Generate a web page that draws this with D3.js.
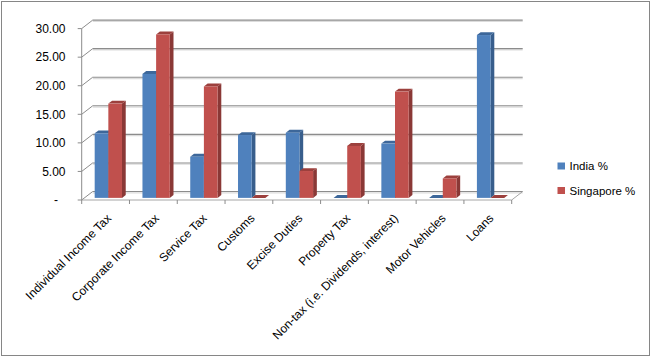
<!DOCTYPE html>
<html>
<head>
<meta charset="utf-8">
<script src="https://cdn.jsdelivr.net/npm/d3@7"></script>
<style>
    body { margin: 0; background: #fff; }
    text { font-family: "Liberation Sans", Arial, sans-serif; font-size: 11.5px; fill: #000; }
    text.xlabel, text.ylabel { font-size: 12px; }
</style>
</head>
<body>
<script>
// Revenue sources, India vs Singapore (3D column look)

// Data
var categories = ["Individual Income Tax", "Corporate Income Tax", "Service Tax",
    "Customs", "Excise Duties", "Property Tax",
    "Non-tax (i.e. Dividends, interest)", "Motor Vehicles", "Loans"];
var seriesNames = ["India %", "Singapore %"];
var india = [11.3, 21.7, 7.2, 11.0, 11.4, 0, 9.5, 0, 28.5];
var singapore = [16.5, 28.6, 19.5, 0, 4.7, 9.1, 18.6, 3.4, 0];
var yTicks = [0, 5, 10, 15, 20, 25, 30];

// Setup variables
var w = 654;
var h = 360;
var depthX = 11, depthY = -8.5;   // floor depth offset
var barFront = 0.25, barBack = 0.59;  // bar position inside the depth

var colors = {
    "India %": { front: "#4f81bd", side: "#385e8c", top: "#3d679a" },
    "Singapore %": { front: "#c0504d", side: "#8a3836", top: "#9c403d" }
};

var rows = categories.map(function(c, i) {
    return { category: c, values: [
        { name: seriesNames[0], value: india[i] },
        { name: seriesNames[1], value: singapore[i] }
    ] };
});

var svg = d3.select("body").append("svg")
    .attr("width", w)
    .attr("height", h);

// Chart border
svg.append("rect")
    .attr("x", 1.5).attr("y", 1.5)
    .attr("width", 648).attr("height", 354)
    .attr("fill", "#fff")
    .attr("stroke", "#868686");

// Scales
var x = d3.scaleBand()
    .domain(categories)
    .range([81.7, 511.7]);

var x1 = d3.scaleBand()
    .domain(seriesNames)
    .range([0, x.bandwidth()])
    .paddingInner(0)
    .paddingOuter(0.75);

var y = d3.scaleLinear()
    .domain([0, 30])
    .range([200, 28.6]);

var x0 = x.range()[0], xEnd = x.range()[1];

// Walls and gridlines
var grid = svg.append("g").attr("id", "grid");

grid.selectAll("line.shadow")
    .data(yTicks)
    .enter()
    .append("line")
    .attr("class", "shadow")
    .attr("x1", x0 + depthX).attr("x2", xEnd + depthX)
    .attr("y1", function(d) { return y(d) + depthY + 1.3; })
    .attr("y2", function(d) { return y(d) + depthY + 1.3; })
    .attr("stroke", "#dcdcdc")
    .attr("stroke-width", 1.2);

grid.selectAll("line.back")
    .data(yTicks)
    .enter()
    .append("line")
    .attr("class", "back")
    .attr("x1", x0 + depthX).attr("x2", xEnd + depthX)
    .attr("y1", function(d) { return y(d) + depthY; })
    .attr("y2", function(d) { return y(d) + depthY; })
    .attr("stroke", "#8c8c8c")
    .attr("stroke-width", 1.1);

grid.selectAll("line.side")
    .data(yTicks)
    .enter()
    .append("line")
    .attr("class", "side")
    .attr("x1", x0).attr("x2", x0 + depthX)
    .attr("y1", function(d) { return y(d); })
    .attr("y2", function(d) { return y(d) + depthY; })
    .attr("stroke", "#8c8c8c");

// floor front and right edges
grid.append("line")
    .attr("x1", x0).attr("x2", xEnd)
    .attr("y1", y(0)).attr("y2", y(0))
    .attr("stroke", "#a6a6a6");
grid.append("line")
    .attr("x1", xEnd).attr("x2", xEnd + depthX)
    .attr("y1", y(0)).attr("y2", y(0) + depthY)
    .attr("stroke", "#a6a6a6");

// Bars
var bars = svg.append("g").attr("id", "bars");

function face(pts) {
    return "M" + pts.map(function(p) { return p.join(","); }).join("L") + "Z";
}

rows.forEach(function(row) {
    row.values.forEach(function(d) {
        var bx = x(row.category) + x1(d.name) + barFront * depthX;
        var bw = x1.bandwidth();
        var yb = y(0) + barFront * depthY;
        var yt = y(d.value) + barFront * depthY;
        var dx = (barBack - barFront) * depthX;
        var dy = (barBack - barFront) * depthY;
        var c = colors[d.name];
        var g = bars.append("g");
        g.append("path")
            .attr("d", face([[bx + bw, yb], [bx + bw + dx, yb + dy], [bx + bw + dx, yt + dy], [bx + bw, yt]]))
            .attr("fill", c.side);
        g.append("path")
            .attr("d", face([[bx, yt], [bx + bw, yt], [bx + bw + dx, yt + dy], [bx + dx, yt + dy]]))
            .attr("fill", c.top);
        if (d.value > 0) {
            g.append("rect")
                .attr("x", bx).attr("y", yt)
                .attr("width", bw).attr("height", yb - yt)
                .attr("fill", c.front);
        }
    });
});

// Axes
var axes = svg.append("g").attr("id", "axes");

axes.append("line")
    .attr("x1", x0).attr("x2", x0)
    .attr("y1", y(30)).attr("y2", y(0))
    .attr("stroke", "#8c8c8c");

axes.selectAll("line.ytick")
    .data(yTicks)
    .enter()
    .append("line")
    .attr("class", "ytick")
    .attr("x1", x0 - 4).attr("x2", x0)
    .attr("y1", function(d) { return y(d); })
    .attr("y2", function(d) { return y(d); })
    .attr("stroke", "#8c8c8c");

axes.selectAll("text.ylabel")
    .data(yTicks)
    .enter()
    .append("text")
    .attr("class", "ylabel")
    .attr("x", function(d) { return d === 0 ? 58 : 65.5; })
    .attr("y", function(d) { return y(d); })
    .attr("dy", "0.35em")
    .attr("text-anchor", "end")
    .text(function(d) { return d === 0 ? "-" : d3.format(".2f")(d); });

var xTickPos = categories.map(function(c) { return x(c); }).concat([xEnd]);

axes.selectAll("line.xtick")
    .data(xTickPos)
    .enter()
    .append("line")
    .attr("class", "xtick")
    .attr("x1", function(d) { return d; })
    .attr("x2", function(d) { return d; })
    .attr("y1", y(0)).attr("y2", y(0) + 4)
    .attr("stroke", "#8c8c8c");

axes.selectAll("text.xlabel")
    .data(categories)
    .enter()
    .append("text")
    .attr("class", "xlabel")
    .attr("transform", function(d) {
        return "translate(" + (x(d) + x.bandwidth() / 2 + 3.5) + ",216) rotate(-45)";
    })
    .attr("dy", "0.35em")
    .attr("text-anchor", "end")
    .text(function(d) { return d; });

// Legend
var legend = svg.append("g").attr("id", "legend");

var legendItems = legend.selectAll("g")
    .data(seriesNames)
    .enter()
    .append("g")
    .attr("transform", function(d, i) {
        return "translate(557.5," + (162.5 + i * 24.5) + ")";
    });

legendItems.append("rect")
    .attr("width", 7.5).attr("height", 7)
    .attr("fill", function(d) { return colors[d].front; });

legendItems.append("text")
    .attr("x", 12)
    .attr("y", 3.5)
    .attr("dy", "0.35em")
    .text(function(d) { return d; });
</script>
</body>
</html>
